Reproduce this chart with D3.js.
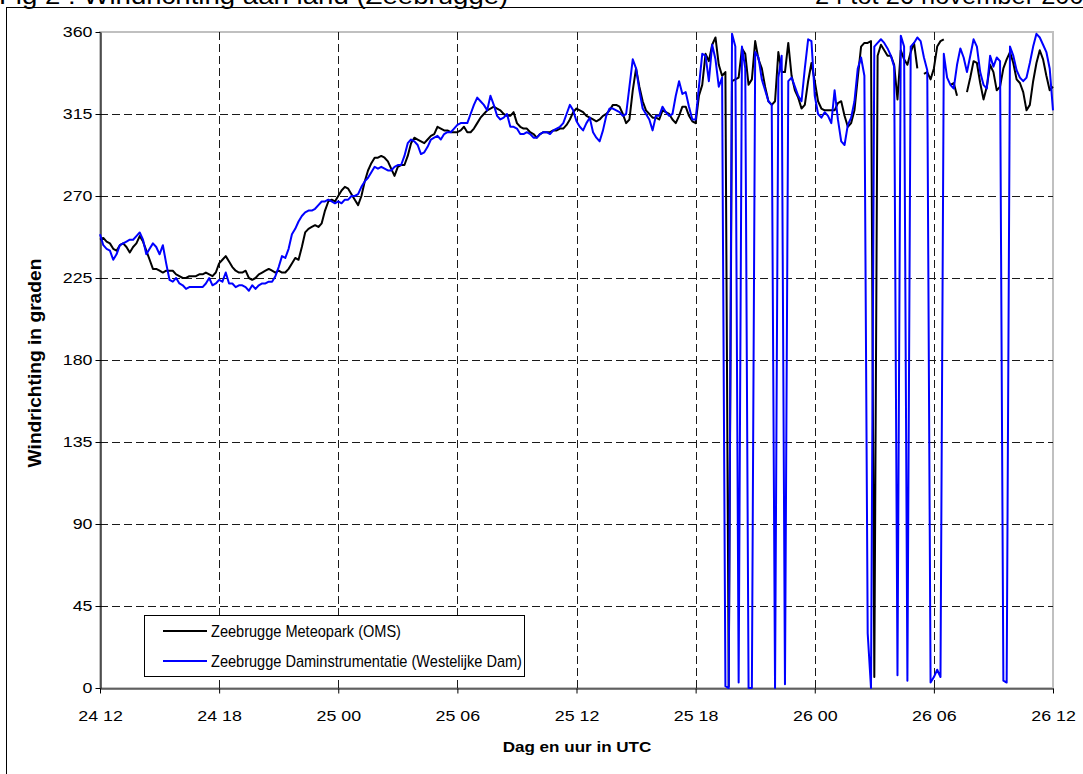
<!DOCTYPE html>
<html><head><meta charset="utf-8">
<script src="https://cdn.jsdelivr.net/npm/d3@7"></script>
<style>body{margin:0;background:#fff}svg{display:block}text{font-family:"Liberation Sans",Arial,sans-serif;fill:#000}</style>
</head><body><svg id="c" width="1083" height="774"></svg>
<script>
// ---- data ----
const titleLeft = "Fig 2 : Windrichting aan land (Zeebrugge)";
const titleRight = "24 tot 26 november 2005";
const yAxisTitle = "Windrichting in graden";
const xAxisTitle = "Dag en uur in UTC";
const xTickHours = [0, 6, 12, 18, 24, 30, 36, 42, 48];
const xTickLabels = ["24 12","24 18","25 00","25 06","25 12","25 18","26 00","26 06","26 12"];
const yTicks = [0, 45, 90, 135, 180, 225, 270, 315, 360];
const seriesNames = ["Zeebrugge Meteopark (OMS)", "Zeebrugge Daminstrumentatie (Westelijke Dam)"];
const stepMinutes = 10; // one value per 10 minutes, starting 24 nov 12 UTC

// Zeebrugge Meteopark (OMS) - wind direction (degrees), null = missing
const oms = [
 246,247,245,244,241,240, 243,244,242,239,242,244, 248,245,240,235,230,230, 229,228,229,229,229,227,
 226,225,225,226,226,226, 227,227,228,227,226,228, 233,235,237,234,231,229, 228,228,229,225,224,225,
 227,228,229,230,229,228, 229,228,228,230,233,236, 235,242,250,252,253,254, 253,255,262,267,268,267,
 270,273,275,274,271,268, 265,270,278,284,288,291, 291,292,291,289,285,281, 286,287,287,292,299,302,
 301,300,299,301,303,304, 308,307,306,306,305,305, 305,306,308,305,305,307, 310,313,315,317,318,319,
 318,317,315,314,314,316, 310,308,307,307,305,304, 302,304,305,305,305,306, 306,307,307,309,312,316,
 318,317,316,314,313,312, 311,312,314,315,317,320, 320,319,315,310,312,328, 340,330,322,317,315,313,
 313,312,317,316,315,312, 310,314,319,319,314,311, 310,325,331,348,344,353, 357,342,336,338,1,333,
 334,335,351,348,331,334, 355,345,340,330,322,320, 322,349,338,338,354,336, 328,324,318,320,333,343,
 333,322,318,317,317,317, 317,321,322,314,308,310, 317,335,352,354,354,355, 6,347,353,350,347,347,
 342,323,350,345,342,349, 354,340,null,337,338,334, 340,352,355,356,null,331, 332,325,null,null,327,335,
 344,343,332,323,330,342, 338,328,330,340,345,349, 343,334,332,327,317,320, 333,343,350,345,336,328,
 330
];
// Zeebrugge Daminstrumentatie (Westelijke Dam)
const dam = [
 249,243,241,240,235,238, 243,244,245,246,246,248, 250,246,238,241,244,242, 238,243,233,224,223,225,
 222,221,219,220,220,220, 220,220,222,225,221,222, 224,223,228,222,222,220, 221,221,220,218,221,219,
 221,222,222,223,223,226, 231,237,236,241,249,252, 256,259,261,262,262,263, 265,267,267,268,267,266,
 267,266,268,268,270,270, 271,275,278,280,283,286, 285,286,285,284,284,286, 287,287,292,299,301,300,
 298,293,294,297,301,302, 303,301,304,305,305,307, 309,310,310,310,315,320, 324,322,320,317,325,320,
 314,312,313,315,308,308, 307,304,304,305,304,302, 302,304,305,305,304,306, 307,308,310,315,320,317,
 311,308,306,310,313,305, 302,300,306,314,318,318, 317,316,314,315,330,345, 340,328,318,315,312,306,
 314,314,319,316,314,315, 325,333,326,327,319,312, 312,330,348,347,333,353, 345,330,335,1,0,359,
 352,3,352,340,0,0, 349,346,334,328,322,320, 0,335,347,2,333,335, 330,325,322,340,356,355,
 325,315,313,316,314,310, 328,312,300,298,309,313, 322,340,346,336,30,0, 352,354,356,354,351,347,
 341,7,358,352,4,352, 354,357,355,346,339,3, 6,10,6,348,335,331, 329,342,351,346,338,347,
 356,352,338,331,329,347, 341,346,344,4,3,352, 347,339,335,333,335,343, 352,359,357,353,349,340,
 317
];
const seriesColors = ["#000000", "#0000ff"];

// ---- layout ----
const svg = d3.select("#c");
const W = 1083, H = 774;
const plot = {left: 100, right: 1053, top: 32, bottom: 688};
const sx = 1.15; // horizontal text stretch seen in the reference

const x = d3.scaleLinear().domain([0, 48]).range([plot.left, plot.right]);
const y = d3.scaleLinear().domain([0, 360]).range([plot.bottom, plot.top]);

svg.append("rect").attr("width", W).attr("height", H).attr("fill", "#fff");

// titles (partly cut at the top, as in the reference)
svg.append("text").attr("transform", `translate(-1,4) scale(${sx},1)`)
  .attr("font-size", 24).text(titleLeft);
svg.append("text").attr("transform", `translate(815,4) scale(1.06,1)`)
  .attr("font-size", 24).text(titleRight);

// outer frame
svg.append("rect").attr("x", 6.5).attr("y", 7.5).attr("width", W + 20).attr("height", H + 20)
  .attr("fill", "none").attr("stroke", "#000").attr("stroke-width", 1);

// plot area border (grey)
svg.append("rect").attr("x", plot.left).attr("y", plot.top)
  .attr("width", plot.right - plot.left).attr("height", plot.bottom - plot.top)
  .attr("fill", "#fff").attr("stroke", "#c0c0c0").attr("stroke-width", 2);

// grid
const grid = svg.append("g").attr("stroke", "#1a1a1a").attr("stroke-width", 1).attr("stroke-dasharray", "8,4");
grid.selectAll("line.h").data(yTicks.filter(d => d > 0 && d < 360)).join("line")
  .attr("x1", plot.left).attr("x2", plot.right)
  .attr("y1", d => Math.round(y(d)) + 0.5).attr("y2", d => Math.round(y(d)) + 0.5);
grid.selectAll("line.v").data(xTickHours.filter(d => d > 0 && d < 48)).join("line")
  .attr("y1", plot.top).attr("y2", plot.bottom)
  .attr("x1", d => Math.round(x(d)) + 0.5).attr("x2", d => Math.round(x(d)) + 0.5);

// axes
const yAxis = svg.append("g").attr("transform", `translate(${plot.left + 0.5},0)`)
  .call(d3.axisLeft(y).tickValues(yTicks).tickSize(5).tickPadding(7).tickSizeOuter(0));
const xAxis = svg.append("g").attr("transform", `translate(0,${plot.bottom + 0.5})`)
  .call(d3.axisBottom(x).tickValues(xTickHours).tickFormat((d, i) => xTickLabels[i]).tickSize(5).tickPadding(16).tickSizeOuter(0));
[yAxis, xAxis].forEach(a => {
  a.select(".domain").attr("stroke", "#000").attr("stroke-width", 1.2);
  a.selectAll(".tick line").attr("stroke", "#000");
  a.selectAll("text").attr("font-size", 15.5).attr("font-family", '"Liberation Sans",Arial,sans-serif').attr("fill", "#000");
});
yAxis.selectAll(".tick text").attr("transform", `scale(${sx},1)`).attr("x", -8 / sx);
xAxis.selectAll(".tick text").attr("transform", `scale(${sx},1)`);

// axis titles
svg.append("text").attr("transform", `translate(577,752) scale(1.1,1)`)
  .attr("text-anchor", "middle").attr("font-size", 15.5).attr("font-weight", "bold").text(xAxisTitle);
svg.append("text").attr("transform", `translate(41,363) rotate(-90) scale(1.2,1.1)`)
  .attr("text-anchor", "middle").attr("font-size", 16).attr("font-weight", "bold").text(yAxisTitle);

// series
const line = d3.line().defined(d => d != null)
  .x((d, i) => x(i * stepMinutes / 60)).y(d => y(d));
[oms, dam].forEach((s, k) => {
  svg.append("path").datum(s).attr("d", line).attr("fill", "none")
    .attr("stroke", seriesColors[k]).attr("stroke-width", 2).attr("stroke-linejoin", "round");
});

// legend
const lg = svg.append("g");
lg.append("rect").attr("x", 144.5).attr("y", 615.5).attr("width", 380).attr("height", 61)
  .attr("fill", "#fff").attr("stroke", "#000").attr("stroke-width", 1);
seriesNames.forEach((n, k) => {
  const yy = 631 + k * 30;
  lg.append("line").attr("x1", 163).attr("x2", 207).attr("y1", yy).attr("y2", yy)
    .attr("stroke", seriesColors[k]).attr("stroke-width", 2);
  lg.append("text").attr("transform", `translate(211,${yy + 5.5}) scale(0.97,1.05)`)
    .attr("font-size", 15).text(n);
});
</script></body></html>
